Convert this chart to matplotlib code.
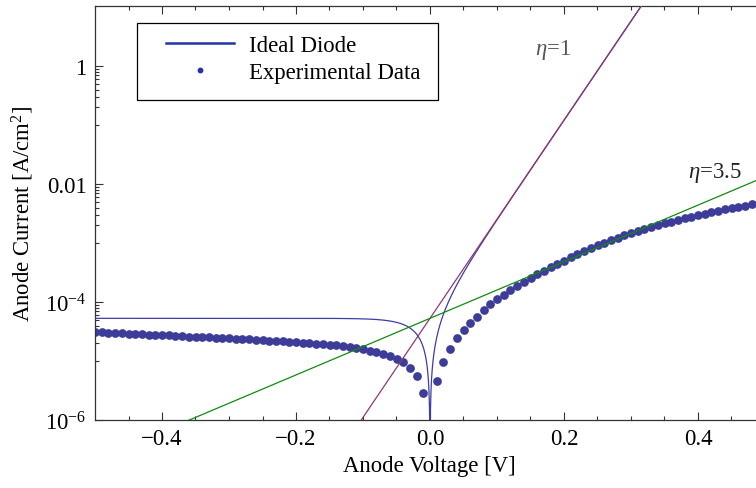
import numpy as np
import matplotlib
matplotlib.use("Agg")
import matplotlib.pyplot as plt
from matplotlib.patches import Rectangle
from matplotlib.lines import Line2D

plt.rcParams["font.family"] = ["Liberation Serif", "DejaVu Serif"]
plt.rcParams["mathtext.fontset"] = "custom"
plt.rcParams["mathtext.rm"] = "Liberation Serif"
plt.rcParams["mathtext.it"] = "Liberation Serif:italic"

# measured sweep, 10 mV steps, log10 of |J| in A/cm^2
v_reverse = np.arange(-50, 0) / 100.0
logj_reverse = [
    -4.510, -4.515, -4.520, -4.525, -4.530, -4.535, -4.540, -4.545, -4.550, -4.555,
    -4.560, -4.566, -4.572, -4.578, -4.584, -4.590, -4.595, -4.600, -4.605, -4.610,
    -4.615, -4.621, -4.627, -4.633, -4.639, -4.645, -4.652, -4.659, -4.666, -4.673,
    -4.680, -4.688, -4.696, -4.704, -4.712, -4.720, -4.733, -4.747, -4.762, -4.780,
    -4.800, -4.822, -4.848, -4.878, -4.915, -4.960, -5.020, -5.115, -5.255, -5.540,
]
v_forward = np.arange(1, 49) / 100.0
logj_forward = [
    -5.340, -5.020, -4.790, -4.615, -4.480, -4.360, -4.245, -4.140, -4.040, -3.955,
    -3.875, -3.800, -3.725, -3.655, -3.590, -3.528, -3.466, -3.408, -3.350, -3.295,
    -3.240, -3.187, -3.135, -3.085, -3.038, -2.992, -2.948, -2.906, -2.866, -2.828,
    -2.790, -2.755, -2.725, -2.695, -2.665, -2.635, -2.610, -2.580, -2.555, -2.530,
    -2.505, -2.480, -2.455, -2.430, -2.410, -2.385, -2.365, -2.340,
]

# diode model parameters
J_SAT = 5.3e-5        # saturation current density [A/cm^2]
V_THERMAL = 0.02585   # kT/q at 300 K [V]
ETAS = [1.0, 3.5]
ETA_LABELS = [r"$\eta$=1", r"$\eta$=3.5"]

exp_v = np.concatenate([v_reverse, v_forward])
exp_j = 10.0 ** np.array(logj_reverse + logj_forward)

v = np.linspace(-0.5, 0.5, 4001)
ideal_j = J_SAT * np.abs(np.expm1(v / V_THERMAL))

fig = plt.figure(figsize=(7.56, 4.89), dpi=100)
ax = fig.add_axes([95 / 756, 68 / 489, 670 / 756, 414 / 489])

data_color = "#3d3d99"
ax.plot(exp_v, exp_j, "o", color=data_color, markersize=6.3,
        markeredgewidth=0, zorder=2)
ax.plot(v, ideal_j, color="#3d3da6", linewidth=0.9, zorder=3)
ax.plot(v, J_SAT * np.exp(v / (ETAS[0] * V_THERMAL)), color="#8e3a72",
        linewidth=0.9, zorder=3)
ax.plot(v, J_SAT * np.exp(v / (ETAS[1] * V_THERMAL)), color="#108a10",
        linewidth=0.9, zorder=3)

ax.set_yscale("log")

ax.set_xticks([-0.4, -0.2, 0.0, 0.2, 0.4])
ax.set_xticklabels(["\u22120.4", "\u22120.2", "0.0", "0.2", "0.4"])
ax.set_xticks(np.arange(-0.45, 0.5, 0.05), minor=True)
ax.set_yticks([1e-6, 1e-4, 1e-2, 1.0])
ax.set_yticklabels([r"$10^{-6}$", r"$10^{-4}$", "0.01", "1"])
minor_y = []
for k in [-4, -2, 0]:
    minor_y += [m * 10.0 ** (k - 1) for m in range(1, 10)]
ax.set_yticks(minor_y, minor=True)
ax.yaxis.set_minor_formatter(plt.NullFormatter())

ax.set_xlim(-0.5, 0.5)
ax.set_ylim(1e-6, 10.5)

frame = "#333333"
for side in ax.spines.values():
    side.set_color(frame)
    side.set_linewidth(0.9)
ax.tick_params(which="both", direction="in", top=True, right=False,
               colors=frame, labelcolor="black", labelsize=16.4, width=0.8)
ax.tick_params(which="major", length=6, pad=6)
ax.tick_params(which="minor", length=3)

ax.set_xlabel("Anode Voltage [V]", fontsize=16.4)
ax.set_ylabel(r"Anode Current [A/cm$^2$]", fontsize=16.4)
ax.xaxis.set_label_coords(0.4985, -0.085)
ax.yaxis.set_label_coords(-0.088, 0.5)

ax.text(0.1836, 1.94, ETA_LABELS[0], fontsize=16.4, color="#555555",
        ha="center", va="center")
ax.text(0.425, 0.016, ETA_LABELS[1], fontsize=16.4, color="#222222",
        ha="center", va="center")

# legend box drawn by hand
ax.add_patch(Rectangle((42 / 670, 320 / 414), 301 / 670, 77 / 414,
                       transform=ax.transAxes, facecolor="white",
                       edgecolor="black", linewidth=0.9, zorder=5))
handles = [
    Line2D([], [], color="#2233aa", linewidth=1.8),
    Line2D([], [], marker="o", linestyle="none", color="#2233aa",
           markersize=3.2),
]
ax.legend(handles, ["Ideal Diode", "Experimental Data"], loc="upper left",
          bbox_to_anchor=(55 / 670, 401 / 414), frameon=False,
          fontsize=16.4, handlelength=3.0, handletextpad=0.65,
          labelspacing=0.25, borderpad=0.2).set_zorder(6)

fig.savefig("out.png", dpi=100)
